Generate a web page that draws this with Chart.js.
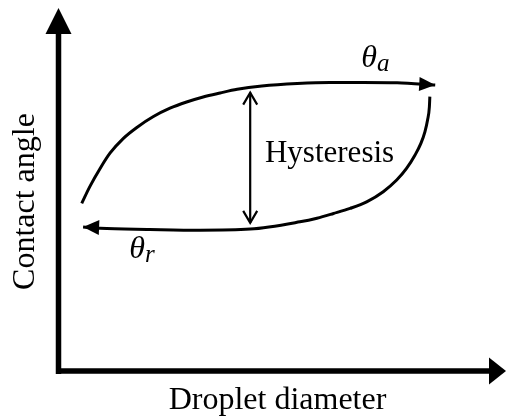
<!DOCTYPE html>
<html>
<head>
<meta charset="utf-8">
<script src="https://cdn.jsdelivr.net/npm/chart.js@4"></script>
<style>
  html, body { margin: 0; padding: 0; background: #fff; }
  canvas { display: block; }
</style>
</head>
<body>
<canvas id="hysteresisChart" width="506" height="419"></canvas>
<script>
// Values, both axes run 0..100 (arbitrary units)
const advancingX = [5.3, 7.1, 9.4, 11.6, 14.6, 17.6, 21.3, 25.0, 28.7, 32.4, 36.2, 40.0, 45.5, 53.4, 60.7, 68.1, 75.7, 84.2];
const advancingY = [46.2, 50.8, 55.8, 60.0, 64.1, 67.1, 70.1, 72.4, 74.1, 75.5, 76.6, 77.6, 78.5, 79.2, 79.5, 79.5, 79.4, 78.8];

const recedingX = [83.0, 82.9, 82.5, 81.9, 81.0, 79.7, 77.8, 75.6, 72.6, 68.9, 65.2, 61.5, 57.8, 54.0, 42.9, 31.7, 20.5, 9.4, 5.6];
const recedingY = [75.6, 72.8, 69.2, 65.9, 62.7, 59.5, 55.8, 52.6, 49.4, 46.6, 44.8, 43.4, 42.1, 41.1, 39.1, 38.8, 39.0, 39.3, 39.7];

const hysteresisX = [42.9, 42.9];
const hysteresisY = [76.7, 40.8];

const xTitle = 'Droplet diameter';
const yTitle = 'Contact angle';
const gapLabel = 'Hysteresis';

const toPoints = (xs, ys) => xs.map((x, i) => ({ x: x, y: ys[i] }));

const serif = "'Liberation Serif', 'Times New Roman', serif";

function arrowHead(ctx, tipX, tipY, fromX, fromY, len, half, filled) {
  const a = Math.atan2(tipY - fromY, tipX - fromX);
  const bx = tipX - len * Math.cos(a);
  const by = tipY - len * Math.sin(a);
  const nx = -Math.sin(a) * half;
  const ny = Math.cos(a) * half;
  ctx.beginPath();
  ctx.moveTo(bx + nx, by + ny);
  ctx.lineTo(tipX, tipY);
  ctx.lineTo(bx - nx, by - ny);
  if (filled) {
    ctx.closePath();
    ctx.fill();
  } else {
    ctx.stroke();
  }
}

// symbol with a subscript, e.g. theta_a
function subscripted(ctx, main, sub, x, y) {
  ctx.textAlign = 'left';
  ctx.textBaseline = 'alphabetic';
  ctx.font = 'italic 32px ' + serif;
  ctx.fillText(main, x, y);
  const w = ctx.measureText(main).width;
  ctx.font = 'italic 25px ' + serif;
  ctx.fillText(sub, x + w, y + 4);
}

// axes with arrows, arrow heads on the curves and all text
const sketchPlugin = {
  id: 'sketch',
  afterDatasetsDraw(chart) {
    const ctx = chart.ctx;
    const xs = chart.scales.x;
    const ys = chart.scales.y;
    const x0 = xs.getPixelForValue(0) + 0.5;
    const y0 = ys.getPixelForValue(0);
    const yTop = ys.getPixelForValue(100);
    const xEnd = xs.getPixelForValue(100);

    ctx.save();
    ctx.fillStyle = '#000';
    ctx.strokeStyle = '#000';

    // axes
    ctx.lineWidth = 5.5;
    ctx.lineCap = 'butt';
    ctx.beginPath();
    ctx.moveTo(x0, yTop + 24);
    ctx.lineTo(x0, y0 + 3);
    ctx.moveTo(x0 - 2.5, y0);
    ctx.lineTo(xEnd - 15, y0);
    ctx.stroke();
    arrowHead(ctx, x0, yTop, x0, yTop + 10, 26, 13, true);
    arrowHead(ctx, xEnd, y0, xEnd - 10, y0, 17, 13.5, true);

    // curve arrow heads
    const adv = chart.getDatasetMeta(0).data;
    const rec = chart.getDatasetMeta(1).data;
    const a1 = adv[adv.length - 1], a0 = adv[adv.length - 2];
    arrowHead(ctx, a1.x, a1.y, a0.x, a0.y, 16, 7, true);
    const r1 = rec[rec.length - 1], r0 = rec[rec.length - 3];
    arrowHead(ctx, r1.x, r1.y, r0.x, r0.y, 16, 7.5, true);

    // double headed hysteresis arrow
    const hy = chart.getDatasetMeta(2).data;
    ctx.lineWidth = 2.2;
    ctx.lineJoin = 'miter';
    arrowHead(ctx, hy[0].x, hy[0].y, hy[1].x, hy[1].y, 12, 7, false);
    arrowHead(ctx, hy[1].x, hy[1].y, hy[0].x, hy[0].y, 12, 7, false);

    // labels
    ctx.textAlign = 'left';
    ctx.textBaseline = 'alphabetic';
    ctx.font = '31px ' + serif;
    ctx.fillText(gapLabel, xs.getPixelForValue(46.2), ys.getPixelForValue(57.6));
    subscripted(ctx, '\u03B8', 'a', xs.getPixelForValue(67.7), ys.getPixelForValue(83.7));
    subscripted(ctx, '\u03B8', 'r', xs.getPixelForValue(15.9), ys.getPixelForValue(31.1));

    // axis titles
    ctx.font = '32px ' + serif;
    ctx.textAlign = 'center';
    ctx.fillText(xTitle, 277.5, 409);
    ctx.translate(34, 201.5);
    ctx.rotate(-Math.PI / 2);
    ctx.fillText(yTitle, 0, 0);
    ctx.restore();
  }
};

const lineStyle = {
  borderColor: '#000',
  backgroundColor: '#000',
  pointRadius: 0,
  showLine: true,
  fill: false
};

new Chart(document.getElementById('hysteresisChart'), {
  type: 'scatter',
  data: {
    datasets: [
      Object.assign({ label: 'advancing', data: toPoints(advancingX, advancingY), borderWidth: 3, cubicInterpolationMode: 'monotone' }, lineStyle),
      Object.assign({ label: 'receding', data: toPoints(recedingX, recedingY), borderWidth: 3, cubicInterpolationMode: 'monotone' }, lineStyle),
      Object.assign({ label: 'hysteresis', data: toPoints(hysteresisX, hysteresisY), borderWidth: 2.2, tension: 0 }, lineStyle)
    ]
  },
  options: {
    responsive: false,
    animation: false,
    layout: { padding: { left: 58, top: 8, right: 0, bottom: 48 } },
    plugins: {
      legend: { display: false },
      tooltip: { enabled: false }
    },
    scales: {
      x: { type: 'linear', min: 0, max: 100, display: false },
      y: { type: 'linear', min: 0, max: 100, display: false }
    }
  },
  plugins: [sketchPlugin]
});
</script>
</body>
</html>
